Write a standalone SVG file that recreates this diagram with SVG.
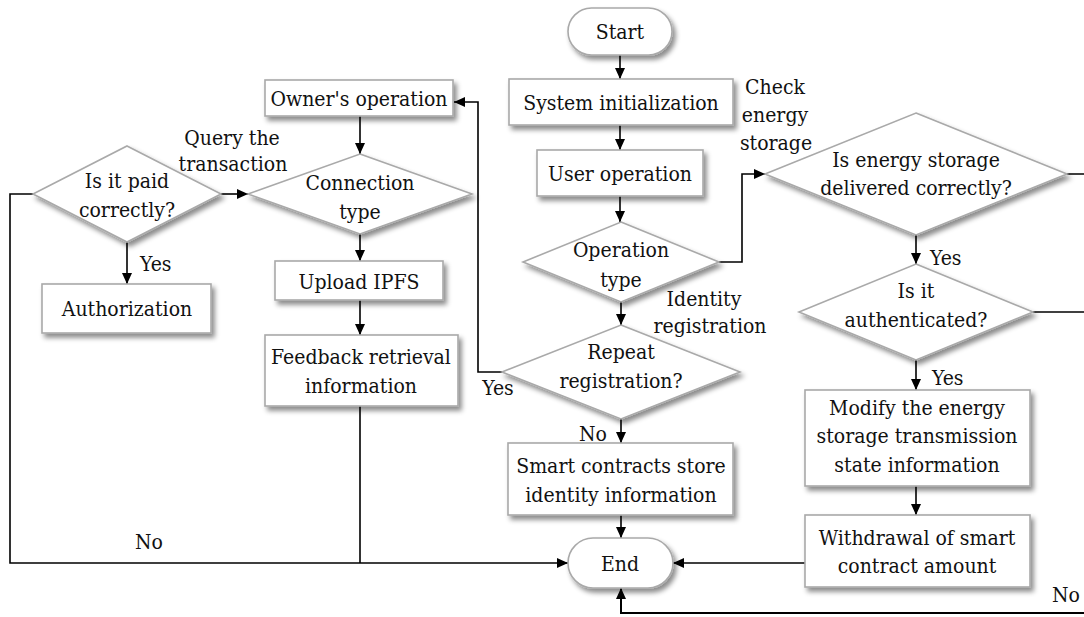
<svg xmlns="http://www.w3.org/2000/svg" width="1084" height="617" viewBox="0 0 1084 617">
<defs>
<filter id="sh" x="-20%" y="-20%" width="140%" height="150%">
<feDropShadow dx="3" dy="4" stdDeviation="2.5" flood-color="#000" flood-opacity="0.45"/>
</filter>
<marker id="ah" markerUnits="userSpaceOnUse" markerWidth="12" markerHeight="12" viewBox="0 0 12 12" refX="11" refY="6" orient="auto">
<path d="M0,1 L11,6 L0,11 Z" fill="#000"/>
</marker>
</defs>
<style>
.n{fill:#fff;stroke:#a9a9a9;stroke-width:1.6;filter:url(#sh)}
text{font-family:'DejaVu Serif Condensed','DejaVu Serif','Liberation Serif',serif;font-stretch:condensed;font-size:21px;fill:#111}
.t{text-anchor:middle}
.c{fill:none;stroke:#000;stroke-width:1.6}
.a{marker-end:url(#ah)}
</style>
<rect width="1084" height="617" fill="#fff"/>

<g id="connectors">
<path class="c a" d="M620,55 V79"/>
<path class="c a" d="M620,125 V150"/>
<path class="c a" d="M620,196 V222"/>
<path class="c a" d="M621,302 V325"/>
<path class="c a" d="M719,262 H742 V174 H765"/>
<path class="c a" d="M621,419 V443"/>
<path class="c a" d="M502,372 H478 V102 H454"/>
<path class="c a" d="M621,515 V538"/>
<path class="c a" d="M360,116 V154"/>
<path class="c a" d="M360,234 V261"/>
<path class="c a" d="M360,300 V335"/>
<path class="c" d="M360,406 V563"/>
<path class="c a" d="M221,194 H248"/>
<path class="c a" d="M127,242 V284"/>
<path class="c a" d="M33,194 H10 V563 H568"/>
<path class="c a" d="M916,235 V264"/>
<path class="c a" d="M916,360 V390"/>
<path class="c a" d="M916,486 V515"/>
<path class="c a" d="M805,563 H673"/>
<path class="c" d="M1067,174 H1092 V613"/>
<path class="c" d="M1033,312 H1092"/>
<path class="c a" d="M1092,613 H621 V588" style="stroke-width:2"/>
</g>

<g id="start">
<rect class="n" x="568" y="8" width="104" height="47" rx="23.5"/>
<text class="t" x="620" y="39">Start</text>
</g>
<g id="sysinit">
<rect class="n" x="509" y="79" width="224" height="46"/>
<text class="t" x="621" y="110">System initialization</text>
</g>
<g id="userop">
<rect class="n" x="537" y="150" width="166" height="46"/>
<text class="t" x="620" y="181">User operation</text>
</g>
<g id="optype">
<polygon class="n" points="621,222 719,262 621,302 523,262"/>
<text class="t" x="621" y="257">Operation</text>
<text class="t" x="621" y="287">type</text>
</g>
<g id="repeat">
<polygon class="n" points="621,325 740,372 621,419 502,372"/>
<text class="t" x="621" y="359">Repeat</text>
<text class="t" x="621" y="388">registration?</text>
</g>
<g id="smartstore">
<rect class="n" x="508" y="443" width="225" height="72"/>
<text class="t" x="621" y="473">Smart contracts store</text>
<text class="t" x="621" y="502">identity information</text>
</g>
<g id="end">
<rect class="n" x="568" y="538" width="105" height="50" rx="25"/>
<text class="t" x="620" y="571">End</text>
</g>
<g id="owner">
<rect class="n" x="265" y="80" width="188" height="36"/>
<text class="t" x="359" y="106">Owner's operation</text>
</g>
<g id="conntype">
<polygon class="n" points="360,154 472,194 360,234 248,194"/>
<text class="t" x="360" y="190">Connection</text>
<text class="t" x="360" y="219">type</text>
</g>
<g id="paid">
<polygon class="n" points="127,146 221,194 127,242 33,194"/>
<text class="t" x="127" y="188">Is it paid</text>
<text class="t" x="127" y="217">correctly?</text>
</g>
<g id="auth">
<rect class="n" x="42" y="284" width="169" height="49"/>
<text class="t" x="127" y="316">Authorization</text>
</g>
<g id="upload">
<rect class="n" x="275" y="261" width="168" height="39"/>
<text class="t" x="359" y="289">Upload IPFS</text>
</g>
<g id="feedback">
<rect class="n" x="265" y="335" width="193" height="71"/>
<text class="t" x="361" y="364">Feedback retrieval</text>
<text class="t" x="361" y="393">information</text>
</g>
<g id="energy">
<polygon class="n" points="916,113 1067,174 916,235 765,174"/>
<text class="t" x="916" y="167">Is energy storage</text>
<text class="t" x="916" y="195">delivered correctly?</text>
</g>
<g id="authenticated">
<polygon class="n" points="916,264 1033,312 916,360 799,312"/>
<text class="t" x="916" y="298">Is it</text>
<text class="t" x="916" y="327">authenticated?</text>
</g>
<g id="modify">
<rect class="n" x="805" y="390" width="225" height="96"/>
<text class="t" x="917" y="415">Modify the energy</text>
<text class="t" x="917" y="443">storage transmission</text>
<text class="t" x="917" y="472">state information</text>
</g>
<g id="withdraw">
<rect class="n" x="805" y="515" width="225" height="72"/>
<text class="t" x="917" y="545">Withdrawal of smart</text>
<text class="t" x="917" y="573">contract amount</text>
</g>
<g id="labels">
<text class="t" x="232" y="145">Query the</text>
<text class="t" x="233" y="171">transaction</text>
<text x="140" y="271">Yes</text>
<text class="t" x="498" y="395">Yes</text>
<text class="t" x="704" y="306">Identity</text>
<text class="t" x="710" y="333">registration</text>
<text class="t" x="593" y="441">No</text>
<text class="t" x="775" y="94">Check</text>
<text class="t" x="775" y="122">energy</text>
<text class="t" x="776" y="150">storage</text>
<text x="930" y="265">Yes</text>
<text x="932" y="385">Yes</text>
<text class="t" x="149" y="549">No</text>
<text class="t" x="1066" y="602">No</text>
</g>
</svg>
